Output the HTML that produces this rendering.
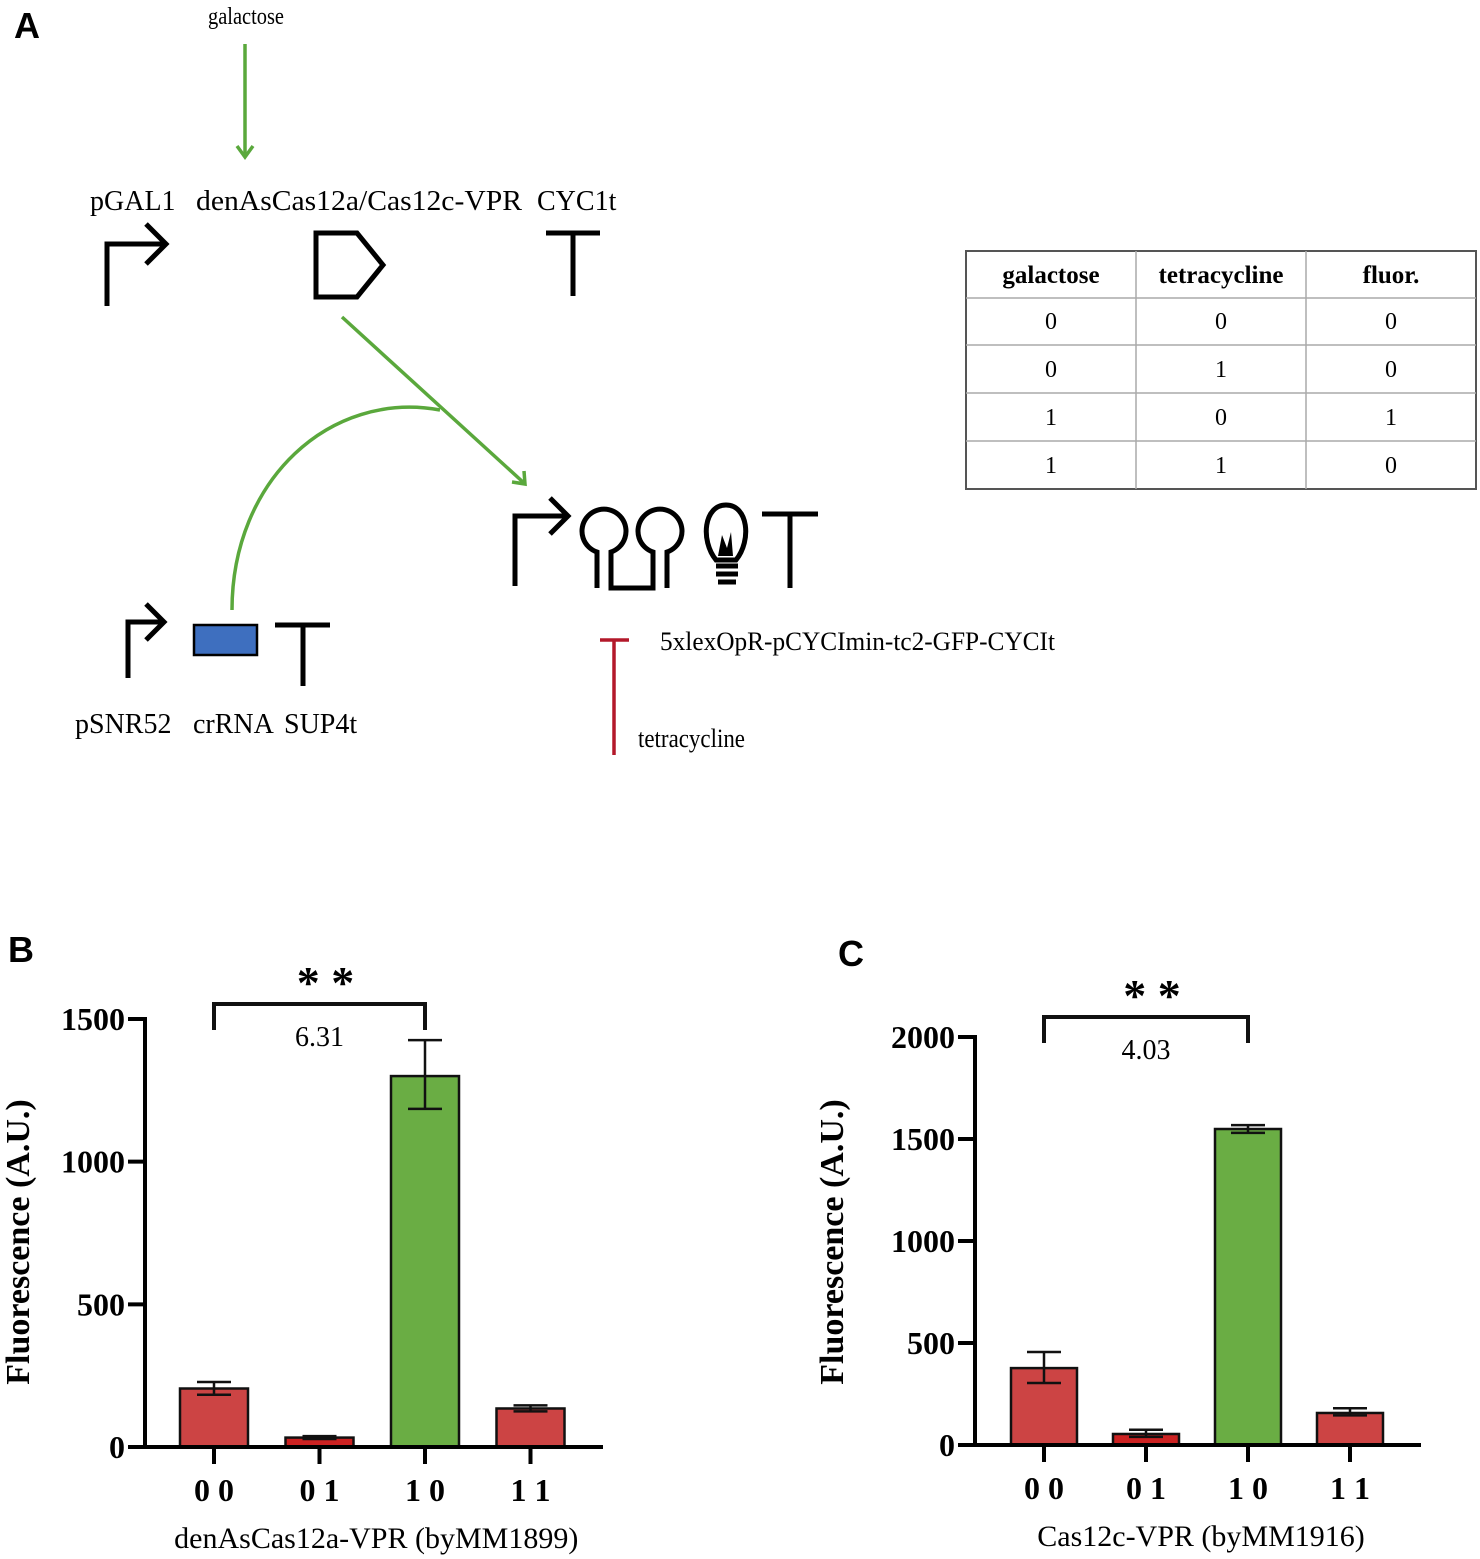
<!DOCTYPE html>
<html><head><meta charset="utf-8"><style>
body{margin:0;background:#fff;}
svg{display:block;font-family:"Liberation Serif",serif;}
</style></head><body>
<svg id="fig" width="1480" height="1559" viewBox="0 0 1480 1559" xmlns="http://www.w3.org/2000/svg">
<g>
<text x="14" y="38" font-family="Liberation Sans" font-weight="bold" font-size="36">A</text>
<text x="208" y="24" font-size="24" textLength="76" lengthAdjust="spacingAndGlyphs">galactose</text>
<g stroke="#5aa83c" stroke-width="3.5" fill="none">
<line x1="245" y1="44" x2="245" y2="156"/><polyline points="237,146 245,157 253,146"/></g>
<g font-size="28">
<text x="90" y="210">pGAL1</text><text x="196" y="210" textLength="326" lengthAdjust="spacingAndGlyphs">denAsCas12a/Cas12c-VPR</text><text x="537" y="210">CYC1t</text></g>
<g stroke="#000" stroke-width="5" fill="none">
<polyline points="107,306 107,244 166,244"/><polyline points="146,224 166,244 146,264"/>
<polygon points="316,233 357,233 383,265 357,297 316,297"/>
<line x1="546" y1="233" x2="600" y2="233"/><line x1="573" y1="233" x2="573" y2="296"/>
</g>
<g stroke="#5aa83c" stroke-width="3.5" fill="none">
<line x1="342" y1="317" x2="524" y2="483"/><polyline points="512,482 525,484 524,471"/>
<path d="M232,610 C232,480 330,390 440,410"/>
</g>
<g stroke="#000" stroke-width="5" fill="none">
<polyline points="515,586 515,516 568,516"/><polyline points="550,498 568,516 550,534"/>
<path d="M597,588 V552 A22,22 0 1 1 611,552 V588 H653 V552 A22,22 0 1 1 667,552 V588"/>
<path d="M716,560 C700,540 704,505 726,505 C748,505 752,540 736,560 Z"/>
<line x1="716" y1="566" x2="738" y2="566"/><line x1="716" y1="574" x2="738" y2="574"/><line x1="718" y1="582" x2="736" y2="582"/>
<line x1="762" y1="514" x2="818" y2="514"/><line x1="790" y1="514" x2="790" y2="588"/>
</g>
<path d="M718,556 L722,535 L727,548 L731,532 L733,556 Z" fill="#000"/>
<g stroke="#000" stroke-width="5" fill="none">
<polyline points="128,678 128,622 164,622"/><polyline points="146,604 164,622 146,640"/>
<line x1="275" y1="625" x2="330" y2="625"/><line x1="303" y1="625" x2="303" y2="686"/>
</g>
<rect x="194" y="625" width="63" height="30" fill="#3e6fbf" stroke="#000" stroke-width="2.5"/>
<g font-size="28">
<text x="75" y="733">pSNR52</text><text x="193" y="733">crRNA</text><text x="284" y="733">SUP4t</text></g>
<g stroke="#b3182a" stroke-width="3.5">
<line x1="614" y1="640" x2="614" y2="755"/><line x1="600" y1="640" x2="629" y2="640"/></g>
<text x="660" y="650" font-size="26" textLength="395" lengthAdjust="spacingAndGlyphs">5xlexOpR-pCYCImin-tc2-GFP-CYCIt</text>
<text x="638" y="747" font-size="26" textLength="107" lengthAdjust="spacingAndGlyphs">tetracycline</text>
<g font-size="24" text-anchor="middle">
<rect x="966" y="251" width="510" height="238" fill="none" stroke="#555" stroke-width="2"/>
<g stroke="#aaa" stroke-width="1.5">
<line x1="966" y1="298" x2="1476" y2="298"/><line x1="966" y1="345" x2="1476" y2="345"/><line x1="966" y1="393" x2="1476" y2="393"/><line x1="966" y1="441" x2="1476" y2="441"/>
<line x1="1136" y1="251" x2="1136" y2="489"/><line x1="1306" y1="251" x2="1306" y2="489"/></g>
<g font-weight="bold" font-size="25"><text x="1051" y="283">galactose</text><text x="1221" y="283">tetracycline</text><text x="1391" y="283">fluor.</text></g>
<text x="1051" y="329">0</text><text x="1221" y="329">0</text><text x="1391" y="329">0</text>
<text x="1051" y="377">0</text><text x="1221" y="377">1</text><text x="1391" y="377">0</text>
<text x="1051" y="425">1</text><text x="1221" y="425">0</text><text x="1391" y="425">1</text>
<text x="1051" y="473">1</text><text x="1221" y="473">1</text><text x="1391" y="473">0</text>
</g>
</g>
<text x="8" y="962" font-family="Liberation Sans" font-weight="bold" font-size="36">B</text>
<text x="838" y="966" font-family="Liberation Sans" font-weight="bold" font-size="36">C</text>
<g id="chartB"></g>
<g id="chartC"></g>
</svg>
<script>
const categories = ["0 0","0 1","1 0","1 1"];
const valuesB = [205, 33, 1300, 135];
const errLoB = [183, 28, 1185, 125];
const errHiB = [228, 38, 1426, 146];
const ticksB = [0, 500, 1000, 1500];
const valuesC = [377, 54, 1549, 157];
const errLoC = [304, 40, 1530, 145];
const errHiC = [456, 75, 1568, 180];
const ticksC = [0, 500, 1000, 1500, 2000];
const colors = ["#cc4444","#cc2222","#6aad44","#cc4444"];
const NS="http://www.w3.org/2000/svg";
function mk(parent,tag,attrs,text){const e=document.createElementNS(NS,tag);for(const k in attrs)e.setAttribute(k,attrs[k]);if(text!==undefined)e.textContent=text;parent.appendChild(e);return e;}
function draw(g,cfg){
  const y=v=>cfg.y0-(v/cfg.max)*(cfg.y0-cfg.yTop);
  const x=i=>cfg.x0+i*cfg.step;
  cfg.ticks.forEach(t=>{
    const l=mk(g,'line',{x1:cfg.ax-17,x2:cfg.ax,y1:y(t),y2:y(t),stroke:'#000','stroke-width':4});
    
    
    const tx=mk(g,'text',{x:cfg.ax-20,y:y(t)+11,'text-anchor':'end','font-size':32,'font-weight':'bold'},String(t));
    
    
  });
  cfg.vals.forEach((v,i)=>{
    const r=mk(g,'rect',{x:x(i)-cfg.bw/2,y:y(v),width:cfg.bw,height:cfg.y0-y(v),fill:colors[i],stroke:'#111','stroke-width':2.5});
    
    
    const eg=mk(g,'g',{stroke:'#111','stroke-width':2.5});
    
    
    mk(eg,'line',{x1:x(i),x2:x(i),y1:y(cfg.lo[i]),y2:y(cfg.hi[i])});
    mk(eg,'line',{x1:x(i)-17,x2:x(i)+17,y1:y(cfg.lo[i]),y2:y(cfg.lo[i])});
    mk(eg,'line',{x1:x(i)-17,x2:x(i)+17,y1:y(cfg.hi[i]),y2:y(cfg.hi[i])});
    const tk=mk(g,'line',{x1:x(i),x2:x(i),y1:cfg.y0,y2:cfg.y0+17,stroke:'#000','stroke-width':4});
    
    
    const lb=mk(g,'text',{x:x(i),y:cfg.y0+54,'text-anchor':'middle','font-size':32,'font-weight':'bold'},categories[i]);
    
    
  });
  const ya=mk(g,'line',{x1:cfg.ax,x2:cfg.ax,y1:y(cfg.max)-2,y2:cfg.y0+2,stroke:'#000','stroke-width':4});
  
  
  const xa=mk(g,'line',{x1:cfg.ax,x2:cfg.xEnd,y1:cfg.y0,y2:cfg.y0,stroke:'#000','stroke-width':4});
  
  
  const br=mk(g,'polyline',{points:`${x(0)},${cfg.brY+26} ${x(0)},${cfg.brY} ${x(2)},${cfg.brY} ${x(2)},${cfg.brY+26}`,fill:'none',stroke:'#111','stroke-width':4});
  
  
  const st=mk(g,'text',{x:(x(0)+x(2))/2+6,y:cfg.brY-6,'text-anchor':'middle','font-size':46,'font-weight':'bold'},'* *');
  
  
  const fc=mk(g,'text',{x:(x(0)+x(2))/2,y:cfg.brY+42,'text-anchor':'middle','font-size':28},cfg.fold);
  
  
  const yt=mk(g,'text',{x:0,y:0,'text-anchor':'middle','font-size':34,'font-weight':'bold',transform:`translate(${cfg.ytX},${cfg.ytY}) rotate(-90)`},'Fluorescence (A.U.)');
  
  
  const xt=mk(g,'text',{x:(x(0)+x(3))/2+4,y:cfg.y0+101,'text-anchor':'middle','font-size':30},cfg.xtitle);
  
  
}
draw(document.getElementById('chartB'),{vals:valuesB,lo:errLoB,hi:errHiB,ticks:ticksB,max:1500,y0:1447,yTop:1019,ax:145,x0:214,step:105.5,bw:68,xEnd:603,brY:1004,fold:'6.31',ytX:29,ytY:1242,xtitle:'denAsCas12a-VPR (byMM1899)'});
draw(document.getElementById('chartC'),{vals:valuesC,lo:errLoC,hi:errHiC,ticks:ticksC,max:2000,y0:1445,yTop:1037,ax:975,x0:1044,step:102,bw:66,xEnd:1421,brY:1017,fold:'4.03',ytX:843,ytY:1242,xtitle:'Cas12c-VPR (byMM1916)'});
</script>
</body></html>
